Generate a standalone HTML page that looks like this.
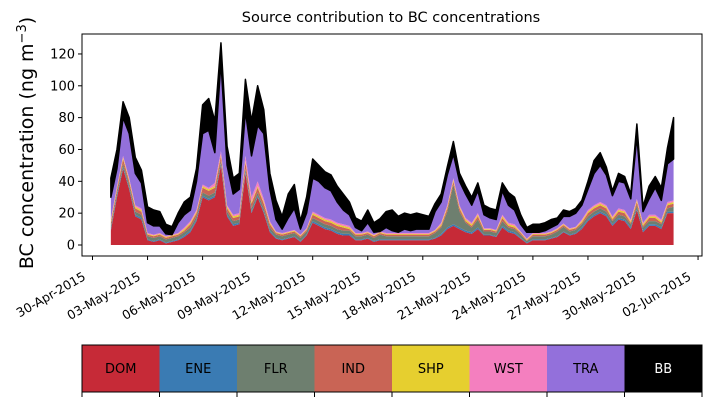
<!DOCTYPE html>
<html><head><meta charset="utf-8"><style>
body{margin:0;background:#fff;}
svg{display:block;font-family:"DejaVu Sans","Liberation Sans",sans-serif;}
</style></head><body>
<svg id="c" width="711" height="402" viewBox="0 0 711 402">
<text x="391" y="22" font-size="14.5" text-anchor="middle">Source contribution to BC concentrations</text>
<text transform="translate(33,143) rotate(-90)" font-size="19" text-anchor="middle">BC concentration (ng m<tspan dy="-7" font-size="13">−3</tspan><tspan dy="7">)</tspan></text>
<g id="areas"></g>
<rect x="82" y="34" width="620" height="222" fill="none" stroke="#000" stroke-width="1"/>
<g id="yaxis"></g>
<g id="xaxis"></g>
<g id="legend"></g>
</svg>
<script>
const sources=["DOM","ENE","FLR","IND","SHP","WST","TRA","BB"];
const colors=["#c62a37","#3a7bb3","#6e7f6f","#c96455","#e6cf2f","#f47fbf","#9370db","#000000"];
const startDay=1, stepDay=1/3;
const total=[42,60,90,80,55,47,24,22,21,13,11,20,27,30,48,88,92,78,127,62,42,45,104,78,100,85,45,28,18,32,38,15,30,54,50,46,44,37,32,27,17,15,22,14,16,21,
22,18,20,19,20,19,18,26,32,49,65,45,37,30,39,25,23,22,39,33,30,19,11,13,13,14,16,17,22,21,23,28,40,53,58,49,34,45,43,32,76,24,37,43,36,61,80];
const bb=[12,12,10,10,10,8,10,10,9,6,5,6,8,8,8,18,20,20,12,12,10,10,20,22,25,15,10,12,8,15,15,5,10,12,10,10,10,10,10,8,6,6,8,6,8,10,
13,10,10,10,10,9,8,5,5,5,8,5,5,5,5,6,6,6,5,8,8,6,3,5,5,5,5,4,4,3,3,3,5,8,8,5,3,5,4,3,8,3,8,7,8,10,26];
const dom=[9,30,48,35,18,16,3,2,3,1,2,3,5,8,15,30,28,30,50,18,12,13,45,20,30,20,8,4,3,4,5,2,6,14,12,10,9,7,6,6,3,3,4,2,3,3,
3,3,3,3,3,3,3,4,6,10,12,10,8,7,10,6,6,5,11,8,7,4,1,3,3,3,4,5,8,6,7,10,15,18,20,18,12,16,15,10,22,8,12,12,10,20,20];
const flr=[2,2,2,2,2,2,2,2,2,2,2,2,2,2,2,2,2,2,2,2,2,2,2,2,2,2,2,2,2,2,2,2,2,2,2,2,2,2,2,2,2,2,2,2,3,2,
2,2,2,2,2,2,2,3,4,10,25,10,5,3,5,2,2,2,3,2,2,2,1,2,2,2,2,3,3,2,2,2,2,2,2,2,2,2,2,2,2,2,2,2,2,2,3];
const ene=[1,1,1,1,1,1,0.5,0.5,0.5,0.5,0.5,0.5,1,1,1,1,1,1,1,1,1,1,1,1,1,1,1,0.5,0.5,0.5,0.5,0.5,0.5,1,1,1,1,1,1,1,0.5,0.5,0.5,0.5,0.5,0.5,
0.5,0.5,0.5,0.5,0.5,0.5,0.5,0.5,1,1,1,1,1,1,1,0.5,0.5,0.5,1,1,1,0.5,0.5,0.5,0.5,0.5,0.5,0.5,0.5,0.5,0.5,1,1,1,1,1,1,1,1,1,1,1,1,1,1,1,1];
const ind=[2,2,3,2,2,2,1,1,1,1,1,1,1,2,2,3,3,3,3,2,2,2,4,3,3,3,2,1,1,1,1,1,1,2,2,2,2,2,2,1,1,1,1,1,1,1,
1,1,1,1,1,1,1,1,1,2,2,2,1,1,2,1,1,1,2,1,1,1,0.5,1,1,1,1,1,1,1,1,1,2,2,2,2,1,2,2,1,2,1,2,2,1,2,2];
const shp=[1,1,1,1,1,1,0.5,0.5,0.5,0.5,0.5,0.5,1,1,1,1,1,1,1,1,1,1,1,1,1,1,1,0.5,0.5,0.5,0.5,0.5,0.5,1,1,1,1,1,1,1,0.5,0.5,0.5,0.5,0.5,0.5,
0.5,0.5,0.5,0.5,0.5,0.5,0.5,0.5,1,1,1,1,1,1,1,0.5,0.5,0.5,1,1,1,0.5,0.5,0.5,0.5,0.5,0.5,0.5,0.5,0.5,0.5,1,1,1,1,1,1,1,1,1,1,1,1,1,1,1,1];
const wst=[1,1,1,1,1,1,0.5,0.5,0.5,0.5,0.5,0.5,1,1,1,1,1,2,2,1,1,1,3,3,3,2,1,0.5,0.5,0.5,0.5,0.5,0.5,1,1,1,1,1,1,1,0.5,0.5,0.5,0.5,0.5,0.5,
0.5,0.5,0.5,0.5,0.5,0.5,0.5,0.5,1,1,1,1,1,1,1,0.5,0.5,0.5,1,1,1,0.5,0.5,0.5,0.5,0.5,0.5,0.5,0.5,0.5,0.5,1,1,1,1,1,1,1,1,1,1,1,1,1,1,1,1];
const yTicks=[0,20,40,60,80,100,120];
const xTickLabels=["30-Apr-2015","03-May-2015","06-May-2015","09-May-2015","12-May-2015","15-May-2015","18-May-2015","21-May-2015","24-May-2015","27-May-2015","30-May-2015","02-Jun-2015"];
const xTickDays=[0,3,6,9,12,15,18,21,24,27,30,33];

const NS="http://www.w3.org/2000/svg";
const X=d=>92.5+18.35*d;
const Y=v=>245-v*1.592;
const tra=total.map((t,i)=>Math.max(0,t-bb[i]-dom[i]-ene[i]-flr[i]-ind[i]-shp[i]-wst[i]));
const series=[dom,ene,flr,ind,shp,wst,tra,bb];
const n=total.length;
let base=new Array(n).fill(0);
const g=document.getElementById('areas');
series.forEach((s,si)=>{
  const top=base.map((b,i)=>b+s[i]);
  let d="";
  for(let i=0;i<n;i++){d+=(i?"L":"M")+X(startDay+i*stepDay).toFixed(2)+","+Y(top[i]).toFixed(2);}
  for(let i=n-1;i>=0;i--){d+="L"+X(startDay+i*stepDay).toFixed(2)+","+Y(base[i]).toFixed(2);}
  d+="Z";
  const p=document.createElementNS(NS,'path');
  p.setAttribute('d',d);p.setAttribute('fill',colors[si]);
  if(si===7){p.setAttribute('stroke','#000');p.setAttribute('stroke-width','1.5');p.setAttribute('stroke-linejoin','round');}
  
  
  g.appendChild(p);
  base=top;
});
const ya=document.getElementById('yaxis');
yTicks.forEach(v=>{
  const l=document.createElementNS(NS,'line');
  l.setAttribute('x1',78);l.setAttribute('x2',82);l.setAttribute('y1',Y(v));l.setAttribute('y2',Y(v));l.setAttribute('stroke','#000');
  
  
  ya.appendChild(l);
  const t=document.createElementNS(NS,'text');
  t.setAttribute('x',75);t.setAttribute('y',Y(v)+4.5);t.setAttribute('font-size','13');t.setAttribute('text-anchor','end');
  t.textContent=v;
  
  
  ya.appendChild(t);
});
const xa=document.getElementById('xaxis');
xTickDays.forEach((d,i)=>{
  const x=X(d);
  const l=document.createElementNS(NS,'line');
  l.setAttribute('x1',x);l.setAttribute('x2',x);l.setAttribute('y1',256);l.setAttribute('y2',260);l.setAttribute('stroke','#000');
  
  
  xa.appendChild(l);
  const t=document.createElementNS(NS,'text');
  t.setAttribute('transform','translate('+(x-6)+',279) rotate(-30)');
  t.setAttribute('font-size','12.5');t.setAttribute('text-anchor','end');
  t.textContent=xTickLabels[i];
  
  
  xa.appendChild(t);
});
const lg=document.getElementById('legend');
const cw=620/8;
sources.forEach((s,i)=>{
  const x=82+i*cw;
  const r=document.createElementNS(NS,'rect');
  r.setAttribute('x',x);r.setAttribute('y',345);r.setAttribute('width',cw+0.5);r.setAttribute('height',47);r.setAttribute('fill',colors[i]);
  
  
  lg.appendChild(r);
  const t=document.createElementNS(NS,'text');
  t.setAttribute('x',x+cw/2);t.setAttribute('y',373);t.setAttribute('font-size','13');t.setAttribute('text-anchor','middle');
  t.setAttribute('fill',i===7?'#fff':'#000');
  t.textContent=s;
  
  
  lg.appendChild(t);
});
for(let i=0;i<=8;i++){
  const x=82+i*cw;
  const l=document.createElementNS(NS,'line');
  l.setAttribute('x1',x);l.setAttribute('x2',x);l.setAttribute('y1',392);l.setAttribute('y2',397);l.setAttribute('stroke','#000');
  
  
  lg.appendChild(l);
}
const fr=document.createElementNS(NS,'rect');
fr.setAttribute('x',82);fr.setAttribute('y',345);fr.setAttribute('width',620);fr.setAttribute('height',47);fr.setAttribute('fill','none');fr.setAttribute('stroke','#000');


lg.appendChild(fr);
</script>
</body></html>
